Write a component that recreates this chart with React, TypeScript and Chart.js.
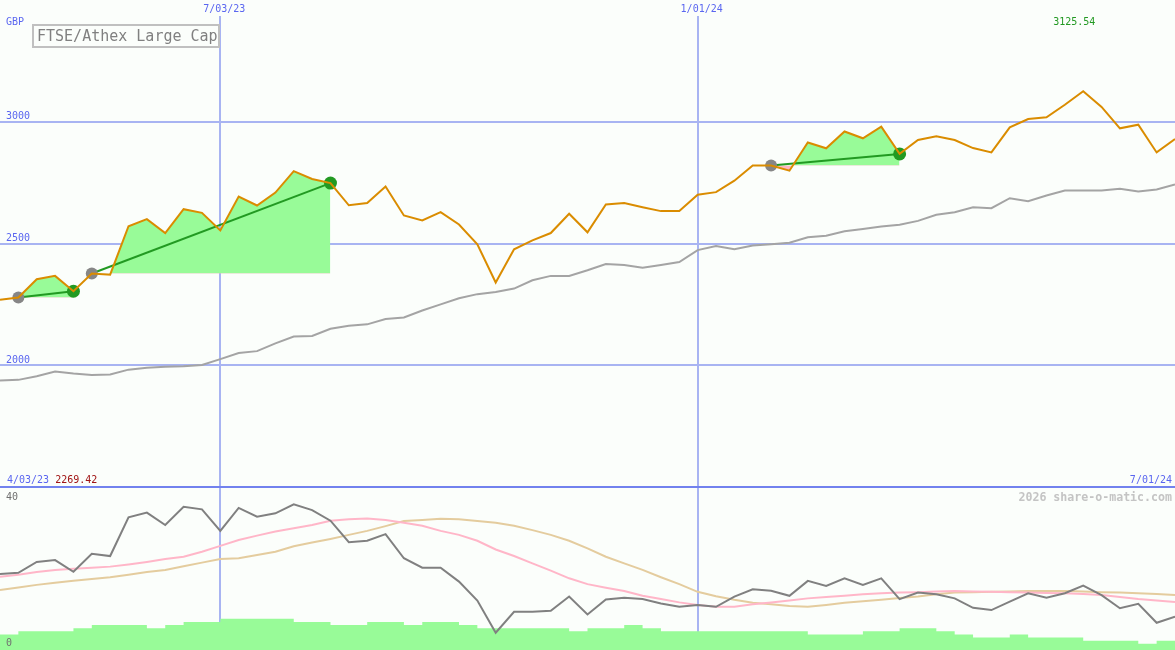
import React, { useEffect, useRef } from 'react';
import { Chart, registerables } from 'chart.js';

Chart.register(...registerables);

// ---------- data ----------
const weeks: number[] = Array.from({ length: 65 }, (_, i) => i); // weekly points, 0 = first week

const priceValues: number[] = [
  2269.42, 2278, 2353, 2367, 2304, 2377, 2372, 2571, 2600, 2543,
  2641, 2626, 2554, 2693, 2656, 2709, 2797, 2765, 2748, 2657,
  2666, 2734, 2615, 2595, 2629, 2578, 2497, 2340, 2476, 2513,
  2543, 2622, 2546, 2660, 2666, 2649, 2633, 2633, 2700, 2711,
  2758, 2820, 2820, 2799, 2915, 2891, 2960, 2932, 2980, 2868,
  2925, 2940, 2925, 2892, 2874, 2977, 3011, 3018, 3070, 3125.54,
  3061, 2973, 2988, 2874, 2929,
];

const indexValues: number[] = [
  1937, 1940, 1955, 1974, 1966, 1960, 1962, 1982, 1990, 1994,
  1996, 2001, 2025, 2050, 2058, 2090, 2118, 2120, 2150, 2162,
  2168, 2190, 2196, 2225, 2250, 2275, 2292, 2301, 2315, 2349,
  2367, 2367, 2390, 2416, 2412, 2400, 2412, 2424, 2473, 2490,
  2476, 2492, 2497, 2503, 2526, 2532, 2550, 2560, 2570, 2577,
  2593, 2618, 2628, 2649, 2645, 2686, 2674, 2697, 2718, 2718,
  2718, 2725, 2714, 2722, 2742,
];

const trendStarts: number[] = [1, 5, 42];
const trendEnds: number[] = [4, 18, 49];

const oscValues: number[] = [
  20.3, 20.6, 23.6, 24.1, 20.9, 25.8, 25.2, 35.8, 37.1, 33.7,
  38.7, 38.0, 32.1, 38.4, 36.0, 36.9, 39.4, 37.8, 34.9, 29.0,
  29.4, 31.2, 24.6, 22.0, 22.0, 18.2, 13.0, 4.2, 9.9, 9.9,
  10.2, 14.1, 9.2, 13.3, 13.8, 13.4, 12.2, 11.3, 11.8, 11.3,
  14.1, 16.1, 15.7, 14.3, 18.4, 17.0, 19.1, 17.3, 19.1, 13.4,
  15.2, 14.7, 13.6, 11.0, 10.4, 12.7, 15.0, 13.8, 15.0, 17.1,
  14.5, 10.9, 12.1, 6.9, 8.6,
];

const oscFastAvg: number[] = [
  19.5, 20.1, 20.8, 21.4, 21.7, 22.0, 22.3, 22.9, 23.6, 24.4,
  25.0, 26.4, 28.0, 29.6, 30.8, 31.9, 32.8, 33.7, 34.9, 35.3,
  35.5, 35.1, 34.3, 33.5, 32.1, 31.0, 29.4, 27.0, 25.2, 23.2,
  21.2, 19.1, 17.5, 16.5, 15.6, 14.3, 13.4, 12.5, 11.8, 11.3,
  11.3, 12.0, 12.5, 13.0, 13.6, 14.0, 14.3, 14.7, 15.0, 15.2,
  15.3, 15.5, 15.6, 15.5, 15.4, 15.3, 15.2, 15.1, 15.0, 14.8,
  14.5, 14.0, 13.4, 13.0, 12.6,
];

const oscSlowAvg: number[] = [
  15.9, 16.6, 17.3, 17.9, 18.4, 18.9, 19.4, 20.1, 20.8, 21.4,
  22.4, 23.4, 24.4, 24.6, 25.5, 26.4, 27.9, 28.9, 29.9, 31.0,
  32.1, 33.4, 34.8, 35.1, 35.4, 35.3, 34.8, 34.3, 33.5, 32.3,
  31.0, 29.4, 27.3, 25.0, 23.2, 21.4, 19.4, 17.5, 15.4, 14.2,
  13.2, 12.4, 12.0, 11.5, 11.3, 11.8, 12.4, 12.8, 13.2, 13.7,
  14.1, 14.7, 15.2, 15.3, 15.4, 15.5, 15.6, 15.6, 15.6, 15.5,
  15.3, 15.2, 15.0, 14.8, 14.5,
];

const volumeValues: number[] = [
  5, 6, 6, 6, 7, 8, 8, 8, 7, 8,
  9, 9, 10, 10, 10, 10, 9, 9, 8, 8,
  9, 9, 8, 9, 9, 8, 7, 7, 7, 7,
  7, 6, 7, 7, 8, 7, 6, 6, 6, 6,
  6, 6, 6, 6, 5, 5, 5, 6, 6, 7,
  7, 6, 5, 4, 4, 5, 4, 4, 4, 3,
  3, 3, 2, 3, 3,
];

const gridWeeks: number[] = [12, 38];
const gridLabels: string[] = ['7/03/23', '1/01/24'];
const startDateLabel = '4/03/23';
const endDateLabel = '7/01/24';
const priceTicks: number[] = [1500, 2000, 2500, 3000];
const oscTicks: number[] = [0, 40];
const currencyLabel = 'GBP';
const titleLabel = 'FTSE/Athex Large Cap';
const creditLabel = '2026 share-o-matic.com';

// ---------- style ----------
const W = 1175;
const H = 650;
const TOP_H = 490;
const LOW_TOP = 488;
const LOW_H = 162;
const FAMILY = '"DejaVu Sans Mono", monospace';
const BG = '#FBFEFB';
const GRID = '#A8B4F2';
const SEP = '#7282EE';
const BLUE = '#5A66F0';
const ORANGE = '#DA8C00';
const BENCH = '#A4A4A4';
const FILL_GREEN = '#98FB98';
const FILL_PINK = '#FFB6C1';
const TREND_GREEN = '#229A22';
const DOT_GRAY = '#868686';
const OSC_GRAY = '#808080';
const OSC_PINK = '#FFB6C8';
const OSC_TAN = '#E4CC9E';

const pts = (arr: number[], from = 0, to = arr.length - 1) =>
  weeks.slice(from, to + 1).map((w) => ({ x: w, y: arr[w] }));

const noPad = (s: any) => {
  s.paddingTop = 0;
  s.paddingBottom = 0;
  s.paddingLeft = 0;
  s.paddingRight = 0;
};

const topTextPlugin = {
  id: 'topText',
  afterDraw(chart: any) {
    const { ctx } = chart;
    const xs = chart.scales.x;
    ctx.save();
    ctx.textBaseline = 'alphabetic';
    ctx.font = `10px ${FAMILY}`;
    ctx.textAlign = 'left';
    ctx.fillStyle = BLUE;
    ctx.fillText(currencyLabel, 6, 25);
    // max value label
    let maxI = 0;
    priceValues.forEach((v, i) => { if (v > priceValues[maxI]) maxI = i; });
    ctx.fillStyle = '#229922';
    ctx.textAlign = 'center';
    ctx.fillText(priceValues[maxI].toFixed(2), xs.getPixelForValue(weeks[maxI]) - 9, 25);
    // start / end labels
    ctx.textAlign = 'left';
    ctx.fillStyle = BLUE;
    const sd = startDateLabel + ' ';
    ctx.fillText(sd, 7, 483);
    const sw = ctx.measureText(sd).width;
    ctx.fillStyle = '#A01414';
    ctx.fillText(priceValues[0].toFixed(2), 7 + sw, 483);
    ctx.fillStyle = BLUE;
    ctx.textAlign = 'right';
    ctx.fillText(endDateLabel, 1172, 483);
    // title box
    ctx.strokeStyle = '#C0C0C0';
    ctx.lineWidth = 2;
    ctx.strokeRect(33, 25, 186, 22);
    ctx.font = `15px ${FAMILY}`;
    ctx.fillStyle = '#808080';
    ctx.textAlign = 'left';
    ctx.fillText(titleLabel, 37, 41);
    ctx.restore();
  },
};

const lowTextPlugin = {
  id: 'lowText',
  afterDraw(chart: any) {
    const { ctx } = chart;
    ctx.save();
    ctx.font = `bold 11.6px ${FAMILY}`;
    ctx.fillStyle = '#C4C4C4';
    ctx.textAlign = 'right';
    ctx.textBaseline = 'alphabetic';
    ctx.fillText(creditLabel, 1172, 13);
    ctx.restore();
  },
};

export default function App() {
  const topRef = useRef<HTMLCanvasElement>(null);
  const lowRef = useRef<HTMLCanvasElement>(null);

  useEffect(() => {
    const trendLineSets = trendStarts.map((s, k) => ({
      data: [
        { x: weeks[s], y: priceValues[s] },
        { x: weeks[trendEnds[k]], y: priceValues[trendEnds[k]] },
      ],
      borderColor: TREND_GREEN,
      borderWidth: 2,
      pointRadius: [6, 6.5],
      pointBackgroundColor: [DOT_GRAY, TREND_GREEN],
      pointBorderWidth: 0,
      fill: false,
    }));
    const trendFillSets = trendStarts.map((s, k) => ({
      data: pts(priceValues, s, trendEnds[k]),
      borderWidth: 0,
      borderColor: 'rgba(0,0,0,0)',
      pointRadius: 0,
      fill: { target: { value: priceValues[s] }, above: FILL_GREEN, below: FILL_PINK },
    }));

    const top = new Chart(topRef.current as HTMLCanvasElement, {
      type: 'line',
      data: {
        datasets: [
          { data: pts(priceValues), borderColor: ORANGE, borderWidth: 2, pointRadius: 0, fill: false },
          ...trendLineSets,
          { data: pts(indexValues), borderColor: BENCH, borderWidth: 2, pointRadius: 0, fill: false },
          ...trendFillSets,
        ] as any,
      },
      options: {
        responsive: false,
        animation: false,
        events: [],
        layout: { autoPadding: false, padding: { left: 0, right: 0, top: 0, bottom: TOP_H - 487 } },
        elements: { line: { tension: 0 } },
        plugins: { legend: { display: false }, tooltip: { enabled: false } },
        scales: {
          x: {
            type: 'linear',
            position: 'top',
            min: weeks[0],
            max: weeks[weeks.length - 1],
            afterBuildTicks: (s: any) => { s.ticks = gridWeeks.map((v) => ({ value: v })); },
            afterFit: (s: any) => { s.height = 16; noPad(s); },
            ticks: {
              callback: (_v: any, i: number) => gridLabels[i] ?? '',
              color: BLUE,
              font: { family: FAMILY, size: 10 },
              padding: 1,
              labelOffset: 4,
              maxRotation: 0,
              autoSkip: false,
            },
            grid: { color: GRID, lineWidth: 2, drawTicks: false },
            border: { display: false },
          },
          y: {
            type: 'linear',
            position: 'left',
            min: 1500,
            max: 3434.3,
            afterBuildTicks: (s: any) => { s.ticks = priceTicks.map((v) => ({ value: v })); },
            afterFit: (s: any) => { s.width = 0; noPad(s); },
            ticks: {
              mirror: true,
              padding: 6,
              labelOffset: -5,
              color: BLUE,
              font: { family: FAMILY, size: 10 },
              callback: (v: any) => (v === priceTicks[0] ? '' : String(v)),
            },
            grid: {
              color: (c: any) => (c.tick && c.tick.value === priceTicks[0] ? SEP : GRID),
              lineWidth: 2,
              drawTicks: false,
            },
            border: { display: false },
          },
        },
      } as any,
      plugins: [topTextPlugin],
    });

    const low = new Chart(lowRef.current as HTMLCanvasElement, {
      type: 'line',
      data: {
        datasets: [
          { data: pts(oscValues), borderColor: OSC_GRAY, borderWidth: 2, pointRadius: 0, fill: false, yAxisID: 'y' },
          { data: pts(oscFastAvg), borderColor: OSC_PINK, borderWidth: 2, pointRadius: 0, fill: false, yAxisID: 'y' },
          { data: pts(oscSlowAvg), borderColor: OSC_TAN, borderWidth: 2, pointRadius: 0, fill: false, yAxisID: 'y' },
          {
            data: pts(volumeValues),
            yAxisID: 'yv',
            stepped: true,
            borderWidth: 0,
            borderColor: 'rgba(0,0,0,0)',
            backgroundColor: FILL_GREEN,
            pointRadius: 0,
            fill: 'origin',
          },
        ] as any,
      },
      options: {
        responsive: false,
        animation: false,
        events: [],
        layout: { autoPadding: false, padding: 0 },
        elements: { line: { tension: 0 } },
        plugins: { legend: { display: false }, tooltip: { enabled: false } },
        scales: {
          x: {
            type: 'linear',
            position: 'bottom',
            min: weeks[0],
            max: weeks[weeks.length - 1],
            afterBuildTicks: (s: any) => { s.ticks = gridWeeks.map((v) => ({ value: v })); },
            afterFit: (s: any) => { s.height = 0; noPad(s); },
            ticks: { display: false },
            grid: { color: GRID, lineWidth: 2, drawTicks: false },
            border: { display: false },
          },
          y: {
            type: 'linear',
            position: 'left',
            min: -0.55,
            max: 43.85,
            afterBuildTicks: (s: any) => { s.ticks = oscTicks.map((v) => ({ value: v })); },
            afterFit: (s: any) => { s.width = 0; noPad(s); },
            ticks: {
              mirror: true,
              padding: 6,
              labelOffset: -5,
              color: '#707070',
              font: { family: FAMILY, size: 10 },
              z: 1,
            },
            grid: { display: false },
            border: { display: false },
          },
          yv: {
            type: 'linear',
            position: 'right',
            min: 0,
            max: 52,
            display: false,
            afterFit: (s: any) => { s.width = 0; noPad(s); },
          },
        },
      } as any,
      plugins: [lowTextPlugin],
    });

    return () => {
      top.destroy();
      low.destroy();
    };
  }, []);

  return (
    <div style={{ position: 'fixed', left: 0, top: 0, width: W, height: H, background: BG, overflow: 'hidden' }}>
      <canvas ref={topRef} width={W} height={TOP_H} style={{ position: 'absolute', left: 0, top: 0, width: W, height: TOP_H }} />
      <canvas ref={lowRef} width={W} height={LOW_H} style={{ position: 'absolute', left: 0, top: LOW_TOP, width: W, height: LOW_H }} />
    </div>
  );
}
